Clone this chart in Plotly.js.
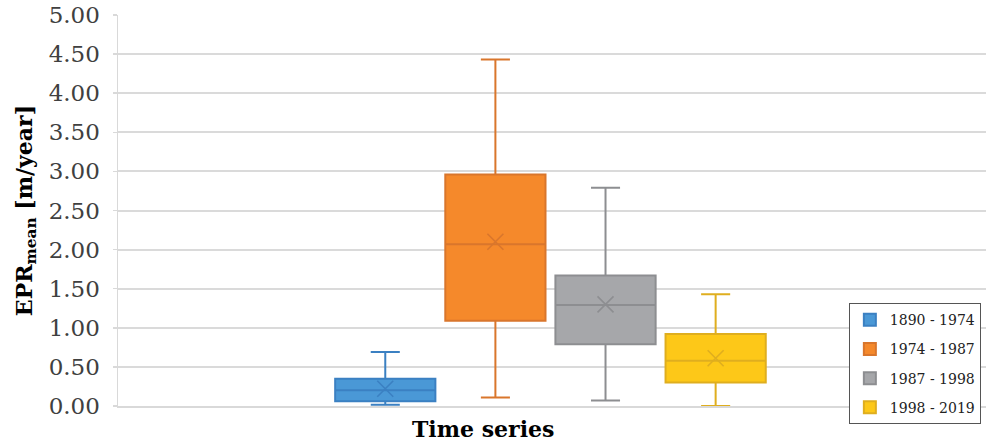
<!DOCTYPE html>
<html>
<head>
<meta charset="utf-8">
<script src="https://cdn.plot.ly/plotly-3.0.1.min.js"></script>
<style>html,body{margin:0;padding:0;background:#fff;}#chart{width:987px;height:446px;}</style>
</head>
<body>
<div id="chart"></div>
<script>
// Data
const periods = ["1890 - 1974", "1974 - 1987", "1987 - 1998", "1998 - 2019"];
const lowerWhisker = [0.015, 0.11, 0.07, 0.00];
const q1Values = [0.06, 1.09, 0.79, 0.30];
const medianValues = [0.20, 2.07, 1.29, 0.58];
const q3Values = [0.35, 2.96, 1.67, 0.92];
const upperWhisker = [0.69, 4.43, 2.79, 1.43];
const meanValues = [0.22, 2.10, 1.30, 0.61];
const yTicks = [0, 0.5, 1, 1.5, 2, 2.5, 3, 3.5, 4, 4.5, 5];

const fillColors = ["#4a98d6", "#f5892b", "#a6a7aa", "#fdc818"];
const lineColors = ["#3b80c2", "#d9762c", "#8d8e91", "#dfae1f"];

const traces = [];
periods.forEach((p, i) => {
  traces.push({
    type: "box",
    name: p,
    x: [p],
    q1: [q1Values[i]],
    median: [medianValues[i]],
    q3: [q3Values[i]],
    lowerfence: [lowerWhisker[i]],
    upperfence: [upperWhisker[i]],
    width: 0.91,
    whiskerwidth: 0.29,
    fillcolor: fillColors[i],
    line: {color: lineColors[i], width: 2},
    boxpoints: false,
    hoverinfo: "skip",
    legendgroup: "g" + i
  });
});
periods.forEach((p, i) => {
  traces.push({
    type: "scatter",
    mode: "markers",
    x: [p],
    y: [meanValues[i]],
    marker: {symbol: "x-thin-open", size: 16, color: lineColors[i], line: {color: lineColors[i], width: 1.6}},
    showlegend: false,
    hoverinfo: "skip"
  });
});

const layout = {
  width: 987,
  height: 446,
  margin: {l: 118, r: 1, t: 15, b: 40},
  paper_bgcolor: "#ffffff",
  plot_bgcolor: "#ffffff",
  showlegend: true,
  xaxis: {
    type: "category",
    categoryorder: "array",
    categoryarray: periods,
    range: [-2.427, 5.455],
    showticklabels: false,
    showgrid: false,
    zeroline: false,
    showline: true,
    linecolor: "#d9d9d9",
    linewidth: 2,
    ticks: "",
    fixedrange: true
  },
  yaxis: {
    range: [0, 5],
    tickvals: yTicks,
    tickformat: ".2f",
    showgrid: true,
    gridcolor: "#dadada",
    gridwidth: 2,
    zeroline: false,
    showline: true,
    linecolor: "#d9d9d9",
    linewidth: 1.5,
    ticks: "outside",
    ticklen: 4,
    tickcolor: "#d9d9d9",
    tickwidth: 1.5,
    ticklabelstandoff: 8,
    tickfont: {family: "DejaVu Serif", size: 23, color: "#404040"},
    title: {
      text: "<b>EPR<sub>mean</sub> [m/year]</b>",
      font: {family: "DejaVu Serif", size: 22, color: "#000000"},
      standoff: 10
    },
    fixedrange: true
  },
  legend: {
    x: 0.842, xanchor: "left",
    y: 0.263, yanchor: "top",
    bgcolor: "#ffffff",
    bordercolor: "#555555",
    borderwidth: 1,
    font: {family: "DejaVu Serif", size: 14, color: "#222222"},
    tracegroupgap: 8,
    traceorder: "grouped"
  },
  annotations: [{
    text: "<b>Time series</b>",
    xref: "paper", yref: "paper",
    x: (483 - 118) / 868, y: -0.059,
    xanchor: "center", yanchor: "middle",
    showarrow: false,
    font: {family: "DejaVu Serif", size: 22, color: "#000000"}
  }]
};

Plotly.newPlot("chart", traces, layout, {displayModeBar: false, staticPlot: true});
</script>
</body>
</html>
